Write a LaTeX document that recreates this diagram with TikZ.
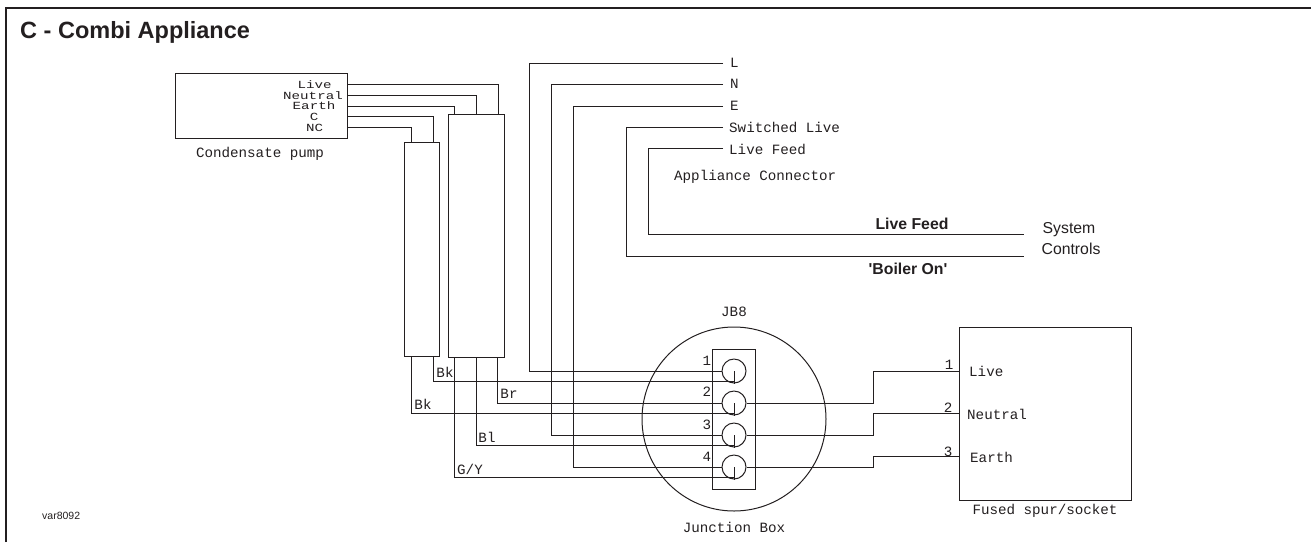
\documentclass[tikz,border=0pt]{standalone}
\usepackage{fontspec}
\setmainfont{Liberation Sans}
\newfontfamily\cadfont{Liberation Mono}
\newfontfamily\stackfont[FakeStretch=1.3]{Liberation Mono}
\newfontfamily\plainsans{Liberation Sans}
\definecolor{ink}{HTML}{231F20}
\begin{document}
\begin{tikzpicture}[x=1pt,y=-1pt,color=ink,
  wire/.style={line width=0.95pt,line join=miter},
  boxx/.style={draw,line width=0.95pt,inner sep=0pt},
  cad/.style={font=\cadfont\fontsize{14.2}{15}\selectfont,inner sep=0pt},
  stack/.style={font=\stackfont\fontsize{10.9}{11}\selectfont,inner sep=0pt,text height=7pt,text depth=0pt},
  sans/.style={font=\fontsize{15.8}{18}\selectfont,inner sep=0pt},
  bsans/.style={font=\plainsans\bfseries\fontsize{15.8}{18}\selectfont,inner sep=0pt}]
\useasboundingbox (0,0) rectangle (1311,542);
\draw[line width=2.5pt] (6,542) -- (6,8) -- (1311,8);
\node[anchor=west,font=\bfseries\fontsize{23.5}{26}\selectfont,inner sep=0pt] (title) at (20,32) {C - Combi Appliance};
\node[boxx,minimum width=172pt,minimum height=65pt] (pump) at (261,105.5) {};
\node[boxx,minimum width=56pt,minimum height=243pt] (tall) at (476,235.5) {};
\node[boxx,minimum width=35pt,minimum height=214pt] (short) at (421.5,249) {};
\node[stack] (lLive) at (314.7,84.5) {Live};
\node[stack] (lNeutral) at (313,95.5) {Neutral};
\node[stack] (lEarth) at (314,106) {Earth};
\node[stack] (lC) at (314,116.7) {C};
\node[stack] (lNC) at (314.7,127.5) {NC};
\node[cad] (lPump) at (260,154) {Condensate pump};
\coordinate (p1) at (347,84);\coordinate (p2) at (347,95);\coordinate (p3) at (347,106);\coordinate (p4) at (347,116.5);\coordinate (p5) at (347,127);
\draw[wire] (p1) -| (498,114);
\draw[wire] (p2) -| (476,114);
\draw[wire] (p3) -| (454.5,114);
\draw[wire] (p4) -| (433,142);
\draw[wire] (p5) -| (411.5,142);
\node[boxx,minimum width=43pt,minimum height=140pt] (strip) at (733.5,419) {};
\draw[line width=1pt] (734,419) circle[radius=92];
\foreach \n/\y/\ly in {1/371/361,2/403/392,3/435/425,4/467/457}{
  \node[circle,draw,line width=1pt,minimum size=24pt,inner sep=0pt] (t\n) at (734,\y) {};
  \draw[line width=1pt] (t\n.center) -- (t\n.south);
  \coordinate (b\n) at (734,\y+10.5);
  \node[cad] (n\n) at (707,\ly) {\n};
}
\coordinate (e1) at (723,63);\coordinate (e2) at (723,84);\coordinate (e3) at (723,106);\coordinate (e4) at (723,127);\coordinate (e5) at (723,148);
\draw[wire] (e1) -| (529,371) -- (t1.west);
\draw[wire] (e2) -| (551,435) -- (t3.west);
\draw[wire] (e3) -| (573,467) -- (t4.west);
\node[cad,anchor=west] (L) at (730,63) {L};
\node[cad,anchor=west] (N) at (730,84) {N};
\node[cad,anchor=west] (E) at (730,106) {E};
\node[cad,anchor=west] (SL) at (729,127) {Switched Live};
\node[cad,anchor=west] (LF) at (729,149) {Live Feed};
\node[cad,anchor=west] (AC) at (674,176.5) {Appliance Connector};
\coordinate (s1) at (1024,234.5);\coordinate (s2) at (1024,256);
\draw[wire] (e4) -| (626,256) -- (s2);
\draw[wire] (e5) -| (648,234.5) -- (s1);
\node[bsans] (lf) at (912,224) {Live Feed};
\node[bsans] (bo) at (908,269) {'Boiler On'};
\node[sans] (sys) at (1069,230) {System};
\node[sans] (ctl) at (1071,249) {Controls};
\draw[wire] (433,356) |- (b1);
\draw[wire] (411.5,356) |- (b2);
\draw[wire] (497,357) |- (t2.west);
\draw[wire] (476,357) |- (b3);
\draw[wire] (454,357) |- (b4);
\node[cad] (bk1) at (445,372) {Bk};
\node[cad] (bk2) at (423,404) {Bk};
\node[cad] (br) at (509,393.5) {Br};
\node[cad] (bl) at (487,437) {Bl};
\node[cad] (gy) at (470,469) {G/Y};
\node[boxx,minimum width=172pt,minimum height=173pt] (spur) at (1045,413.5) {};
\draw[wire] (t2.east) -- (873,403) |- (959,371);
\draw[wire] (t3.east) -- (873,435) |- (959,413.5);
\draw[wire] (t4.east) -- (873,467) |- (959,456.5);
\node[cad] (r1) at (949,365) {1};
\node[cad] (r2) at (948,408) {2};
\node[cad] (r3) at (948,452) {3};
\node[cad,anchor=west] (rLive) at (969,371) {Live};
\node[cad,anchor=west] (rNeutral) at (967,414) {Neutral};
\node[cad,anchor=west] (rEarth) at (970,457) {Earth};
\node[cad] (fs) at (1045,511) {Fused spur/socket};
\node[cad] (jb) at (734,527) {Junction Box};
\node[cad] (jb8) at (734,312) {JB8};
\node[anchor=west,font=\fontsize{10.5}{12}\selectfont,inner sep=0pt] (var) at (42,516) {var8092};
\end{tikzpicture}
\end{document}
